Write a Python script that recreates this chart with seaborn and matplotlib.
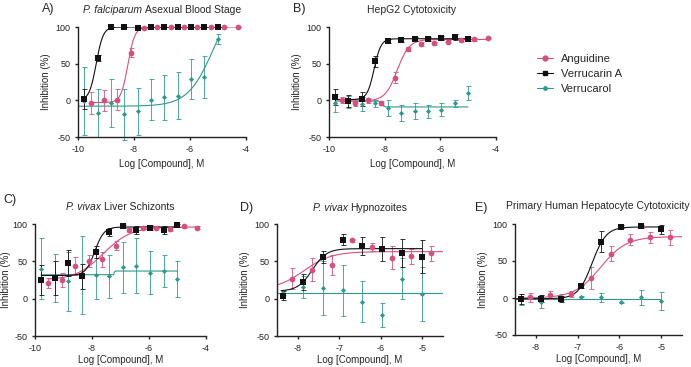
import numpy as np
import matplotlib
matplotlib.use("Agg")
import matplotlib.pyplot as plt
from matplotlib.lines import Line2D
import seaborn as sns

sns.set_style("ticks")
plt.rcParams['font.family'] = ['Liberation Sans', 'DejaVu Sans']
plt.rcParams['axes.unicode_minus'] = False

PINK = '#d6507f'
BLACK = '#111111'
TEAL = '#2e9a8c'

# dose positions, log [compound] M
x_black_abc = [-9.78, -9.30, -8.83, -8.35, -7.87, -7.40, -6.92, -6.44, -5.97, -5.49, -5.01]
x_pink_abc = [-9.55, -9.07, -8.60, -8.12, -7.64, -7.17, -6.69, -6.21, -5.74, -5.26, -4.78, -4.30]
x_black_de = [-8.35, -7.87, -7.40, -6.92, -6.44, -5.97, -5.49, -5.01]
x_pink_de = [-8.13, -7.65, -7.17, -6.69, -6.21, -5.74, -5.26, -4.78]

# A) P. falciparum asexual blood stage
ang_a = [-4, 0, 1, 65, 99, 100, 100, 100, 100, 100, 100, 100]
ang_a_err = [15, 14, 14, 6, 0, 0, 0, 0, 0, 0, 0, 0]
ver_a = [2, 58, 100, 100, 98, 100, 100, 100, 100, 100, 100]
ver_a_err = [14, 4, 0, 0, 0, 0, 0, 0, 0, 0, 0]
vol_a = [-1, -17, -4, -19, -15, 1, 4, 6, 29, 32, 84]
vol_a_err = [46, 33, 33, 35, 32, 28, 31, 32, 27, 29, 7]

# B) HepG2
ang_b = [1, -3, 0, -4, 31, 70, 77, 78, 80, 82, 83, 85]
ang_b_err = [4, 5, 3, 3, 8, 3, 3, 2, 2, 2, 2, 2]
ver_b = [5, -1, 2, 53, 81, 82, 84, 84, 85, 86, 84]
ver_b_err = [11, 8, 10, 8, 3, 3, 3, 3, 3, 4, 3]
vol_b = [-4, -2, -5, -4, -11, -17, -15, -15, -13, -4, 10]
vol_b_err = [12, 8, 10, 5, 11, 11, 11, 9, 9, 5, 9]

# C) P. vivax liver schizonts
ang_c = [21, 25, 44, 51, 53, 71, 92, 95, 95, 93, 97, 95]
ang_c_err = [7, 10, 12, 8, 10, 6, 3, 2, 2, 3, 2, 2]
ver_c = [25, 28, 48, 30, 62, 89, 97, 92, 95, 92, 98]
ver_c_err = [20, 23, 17, 17, 8, 5, 2, 5, 3, 5, 2]
vol_c = [40, 28, 23, 32, 32, 30, 42, 44, 35, 37, 26]
vol_c_err = [41, 32, 39, 52, 33, 29, 34, 37, 29, 21, 24]

# D) P. vivax hypnozoites
ang_d = [27, 39, 45, 78, 69, 55, 57, 61]
ang_d_err = [14, 16, 13, 2, 5, 15, 10, 10]
ver_d = [4, 22, 56, 79, 71, 66, 61, 56]
ver_d_err = [6, 11, 8, 7, 12, 16, 19, 22]
vol_d = [8, 16, 14, 11, -4, -22, 27, 6]
vol_d_err = [3, 15, 36, 34, 27, 16, 27, 36]

# E) primary human hepatocyte
ang_e = [1, 4, 5, 27, 60, 79, 82, 82]
ang_e_err = [6, 6, 4, 15, 10, 8, 7, 10]
ver_e = [-1, -1, -1, 16, 76, 96, 97, 93]
ver_e_err = [7, 5, 4, 2, 14, 2, 2, 6]
vol_e = [-2, -5, 1, 2, 1, -6, 1, -4]
vol_e_err = [8, 9, 4, 1, 6, 1, 10, 12]

# 4PL fit params: bottom, top, logEC50, hill, x from, x to
fit_a = {'ang': (-3, 100, -8.22, 3.5, -9.55, -4.30),
         'ver': (0, 100, -9.35, 3.5, -9.78, -5.01),
         'vol': (-8, 150, -5.15, 0.94, -10.0, -5.01)}
fit_b = {'ang': (-1, 83, -7.55, 2.0, -9.55, -4.30),
         'ver': (1, 84, -8.38, 3.5, -9.78, -5.01),
         'vol': (-1, -9, -8.1, 12, -9.78, -5.01)}
fit_c = {'ang': (25, 96, -7.6, 0.9, -9.55, -4.30),
         'ver': (31, 96, -7.9, 2.7, -9.78, -5.01),
         'vol': (32, 37, -7.22, 40, -9.78, -5.01)}
fit_d = {'ang': (12, 63, -7.85, 1.3, -8.5, -4.5),
         'ver': (10, 67, -7.65, 2.5, -8.4, -5.0),
         'vol': (8, 8, -7.0, 1, -8.5, -4.5)}
fit_e = {'ang': (0, 83, -6.45, 1.4, -8.4, -4.5),
         'ver': (-1, 96, -6.65, 2.6, -8.5, -5.0),
         'vol': (-1.5, -1.5, -7.0, 1, -8.5, -5.0)}


def four_pl(p):
    bottom, top, ec50, hill, x0, x1 = p
    xs = np.linspace(x0, x1, 300)
    return xs, bottom + (top - bottom) / (1 + 10 ** ((ec50 - xs) * hill))


W, H = 691, 367
fig = plt.figure(figsize=(W / 100, H / 100), dpi=100)
renderer = fig.canvas.get_renderer()


def make_axes(px_left, px_right, px_top, px_bottom):
    return fig.add_axes([px_left / W, 1 - px_bottom / H,
                         (px_right - px_left) / W, (px_bottom - px_top) / H])


def mixed_title(px_center, px_baseline, italic, rest, size=7.5):
    # italic species name followed by upright text, centred over the axes
    y = 1 - px_baseline / H
    t2 = fig.text(0, y, rest, fontsize=size, va='baseline')
    w2 = t2.get_window_extent(renderer).width
    if italic:
        t1 = fig.text(0, y, italic, fontsize=size, style='italic', va='baseline')
        w1 = t1.get_window_extent(renderer).width + 2.5
    else:
        t1, w1 = None, 0
    start = px_center - (w1 + w2) / 2
    if t1 is not None:
        t1.set_x(start / W)
    t2.set_x((start + w1) / W)


def panel(ax, xb, xp, ang, ang_err, ver, ver_err, vol, vol_err, fits, xlim, xticks,
          ypad=3, xpad=4):
    series = [('vol', xb, vol, vol_err, TEAL, 'D', 7),
              ('ang', xp, ang, ang_err, PINK, 'o', 17),
              ('ver', xb, ver, ver_err, BLACK, 's', 24)]
    for key, xs, ys, err, col, mk, sz in series:
        cx, cy = four_pl(fits[key])
        sns.lineplot(x=cx, y=cy, ax=ax, color=col, linewidth=0.8, legend=False)
        ax.errorbar(xs, ys, yerr=err, fmt='none', ecolor=col, elinewidth=0.7,
                    capsize=1.8, capthick=0.7, alpha=0.85, clip_on=False)
        sns.scatterplot(x=xs, y=ys, ax=ax, color=col, marker=mk, s=sz,
                        edgecolor=col, linewidth=0, legend=False, clip_on=False, zorder=5)
    ax.set_xlim(*xlim)
    ax.set_ylim(-50, 100)
    ax.set_xticks(xticks)
    ax.set_yticks([-50, 0, 50, 100])
    ax.set_xticklabels([str(t) for t in xticks])
    ax.set_yticklabels(['-50', '0', '50', '100'])
    sns.despine(ax=ax)
    for s in ['left', 'bottom']:
        ax.spines[s].set_linewidth(1.0)
        ax.spines[s].set_color('#222222')
    ax.tick_params(axis='both', labelsize=6.5, length=2.5, width=1.0, pad=3, colors='#222222')
    ax.set_xlabel('Log [Compound], M', fontsize=7, labelpad=xpad)
    ax.set_ylabel('Inhibition (%)', fontsize=7, labelpad=ypad)


def letter(px_x, px_y, s):
    fig.text(px_x / W, 1 - px_y / H, s, fontsize=9, ha='left', va='center')


ax_a = make_axes(78, 246, 27, 137)
panel(ax_a, x_black_abc, x_pink_abc, ang_a, ang_a_err, ver_a, ver_a_err, vol_a, vol_a_err,
      fit_a, (-10, -4), [-10, -8, -6, -4])
mixed_title(162, 13, 'P. falciparum', 'Asexual Blood Stage')
letter(42, 9, 'A)')

ax_b = make_axes(329, 496, 27, 137)
panel(ax_b, x_black_abc, x_pink_abc, ang_b, ang_b_err, ver_b, ver_b_err, vol_b, vol_b_err,
      fit_b, (-10, -4), [-10, -8, -6, -4])
mixed_title(412, 13, '', 'HepG2 Cytotoxicity')
letter(293, 9, 'B)')

ax_c = make_axes(35, 206, 224, 336)
panel(ax_c, x_black_abc, x_pink_abc, ang_c, ang_c_err, ver_c, ver_c_err, vol_c, vol_c_err,
      fit_c, (-10, -4), [-10, -8, -6, -4], ypad=1, xpad=2)
mixed_title(120, 210, 'P. vivax', 'Liver Schizonts')
letter(3, 200, 'C)')

ax_d = make_axes(277, 443, 224, 336)
panel(ax_d, x_black_de, x_pink_de, ang_d, ang_d_err, ver_d, ver_d_err, vol_d, vol_d_err,
      fit_d, (-8.5, -4.5), [-8, -7, -6, -5], xpad=2)
mixed_title(360, 211, 'P. vivax', 'Hypnozoites')
letter(240, 208, 'D)')

ax_e = make_axes(515, 682, 224, 335)
panel(ax_e, x_black_de, x_pink_de, ang_e, ang_e_err, ver_e, ver_e_err, vol_e, vol_e_err,
      fit_e, (-8.5, -4.5), [-8, -7, -6, -5], xpad=2)
mixed_title(598, 209, '', 'Primary Human Hepatocyte Cytotoxicity')
letter(475, 208, 'E)')

handles = [Line2D([], [], color=PINK, marker='o', markersize=3.5, lw=0.8),
           Line2D([], [], color=BLACK, marker='s', markersize=3.5, lw=0.8),
           Line2D([], [], color=TEAL, marker='D', markersize=2.2, lw=0.8)]
fig.legend(handles, ['Anguidine', 'Verrucarin A', 'Verrucarol'],
           loc='center left', bbox_to_anchor=(537 / W, 1 - 74 / H), frameon=False,
           fontsize=8, handlelength=1.45, handletextpad=0.7, labelspacing=0.45,
           borderpad=0, borderaxespad=0)

fig.savefig('out.png', dpi=100)
